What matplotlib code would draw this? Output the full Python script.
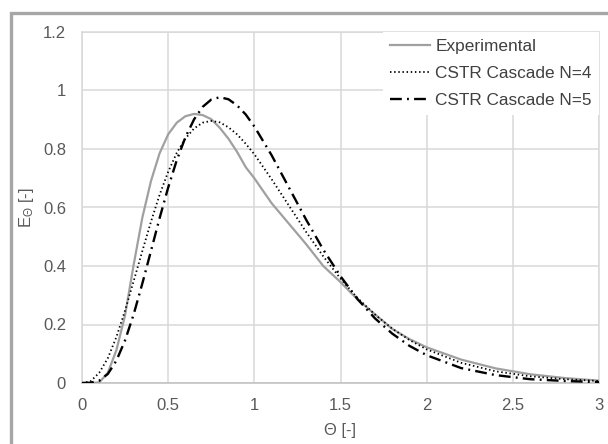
import matplotlib
matplotlib.use("Agg")
import matplotlib.pyplot as plt
from matplotlib.patches import Rectangle

plt.rcParams["font.family"] = ["Liberation Sans", "DejaVu Sans"]
plt.rcParams["mathtext.fontset"] = "custom"
plt.rcParams["mathtext.rm"] = "Liberation Sans"
plt.rcParams["mathtext.it"] = "Liberation Sans"

# eksperiment
theta_exp = [0, 0.05, 0.10, 0.15, 0.20, 0.25, 0.30, 0.35, 0.40, 0.45, 0.50, 0.55, 0.60, 0.65,
             0.70, 0.75, 0.80, 0.85, 0.90, 0.95, 1.0, 1.1, 1.2, 1.3, 1.4, 1.5, 1.6, 1.7, 1.8,
             1.9, 2.0, 2.2, 2.4, 2.6, 2.8, 3.0]
E_exp = [0, 0, 0.002, 0.035, 0.113, 0.232, 0.405, 0.565, 0.69, 0.785, 0.85, 0.89, 0.912, 0.920,
         0.916, 0.902, 0.872, 0.835, 0.79, 0.738, 0.70, 0.615, 0.545, 0.475, 0.40, 0.345, 0.285,
         0.235, 0.185, 0.15, 0.122, 0.080, 0.050, 0.030, 0.017, 0.008]

# CSTR kaskada
theta_m = [0, 0.05, 0.10, 0.15, 0.20, 0.25, 0.30, 0.35, 0.40, 0.45, 0.50, 0.55, 0.60, 0.65,
           0.70, 0.75, 0.80, 0.85, 0.90, 0.95, 1.0, 1.1, 1.2, 1.3, 1.4, 1.5, 1.6, 1.7, 1.8,
           1.9, 2.0, 2.2, 2.4, 2.6, 2.8, 3.0]
E_N4 = [0, 0.006, 0.035, 0.085, 0.158, 0.248, 0.349, 0.451, 0.551, 0.643, 0.722, 0.787, 0.836,
        0.870, 0.890, 0.896, 0.891, 0.874, 0.850, 0.818, 0.782, 0.697, 0.607, 0.517, 0.433,
        0.357, 0.290, 0.234, 0.186, 0.147, 0.115, 0.069, 0.040, 0.023, 0.013, 0.007]
E_N5 = [0, 0.001, 0.008, 0.031, 0.077, 0.146, 0.235, 0.340, 0.451, 0.563, 0.668, 0.762, 0.840,
        0.901, 0.944, 0.969, 0.977, 0.970, 0.949, 0.918, 0.877, 0.779, 0.669, 0.559, 0.456,
        0.365, 0.286, 0.221, 0.169, 0.127, 0.095, 0.051, 0.027, 0.013, 0.007, 0.003]

x_ticks = [0, 0.5, 1, 1.5, 2, 2.5, 3]
x_tick_labels = ["0", "0.5", "1", "1.5", "2", "2.5", "3"]
y_ticks = [0, 0.2, 0.4, 0.6, 0.8, 1.0, 1.2]
y_tick_labels = ["0", "0.2", "0.4", "0.6", "0.8", "1", "1.2"]

fig = plt.figure(figsize=(6.08, 4.44), dpi=100)
ax = fig.add_axes([82 / 608, 61 / 444, 517 / 608, 351 / 444])

ax.plot(theta_exp, E_exp, color="#a0a0a0", lw=1.6, label="Experimental", zorder=3)
ax.plot(theta_m, E_N4, color="black", lw=1.3, dashes=(0.8, 1.5), label="CSTR Cascade N=4", zorder=4)
ax.plot(theta_m, E_N5, color="black", lw=1.7, dashes=(5, 2.2, 0.8, 2.2), label="CSTR Cascade N=5", zorder=4)

ax.set_xlim(0, 3)
ax.set_ylim(0, 1.2)
ax.set_xticks(x_ticks)
ax.set_xticklabels(x_tick_labels)
ax.set_yticks(y_ticks)
ax.set_yticklabels(y_tick_labels)
ax.tick_params(axis="x", length=0, labelsize=12, labelcolor="#595959", pad=11)
ax.tick_params(axis="y", length=0, labelsize=12, labelcolor="#595959", pad=11.5)
ax.grid(color="#d9d9d9", lw=1.1)
ax.set_axisbelow(True)
for s in ["top", "right", "left"]:
    ax.spines[s].set_color("#d9d9d9")
    ax.spines[s].set_linewidth(1.1)
ax.spines["bottom"].set_color("#bfbfbf")
ax.spines["bottom"].set_linewidth(1.1)

ax.set_xlabel("Θ [-]", fontsize=12, color="#595959", labelpad=7)
ax.set_ylabel(r"E$_\Theta$ [-]", fontsize=12, color="#595959", labelpad=5)

leg = ax.legend(loc="upper right", bbox_to_anchor=(1.0, 1.0), borderaxespad=0, fontsize=12.4,
                frameon=True, fancybox=False, handlelength=2.3, handletextpad=0.3,
                labelspacing=0.68, borderpad=0.42)
leg.get_frame().set_edgecolor("none")
leg.get_frame().set_facecolor("white")
leg.get_frame().set_alpha(1)
for t in leg.get_texts():
    t.set_color("#404040")

# okvir
fig.patches.append(Rectangle((10.5 / 608, -0.2), 1.2, (444 - 13.5) / 444 + 0.2, transform=fig.transFigure,
                             fill=False, edgecolor="#a6a6a6", lw=2.4))

fig.savefig("out.png", dpi=100)
